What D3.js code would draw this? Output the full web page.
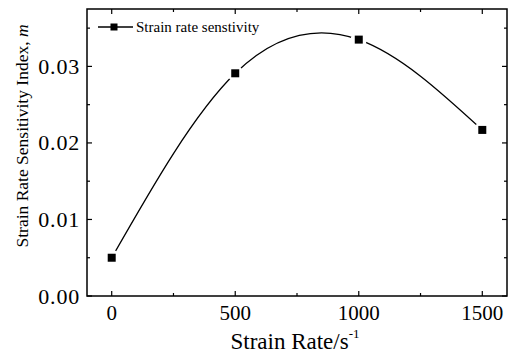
<!DOCTYPE html>
<html>
<head>
<meta charset="utf-8">
<script src="https://cdn.jsdelivr.net/npm/d3@7"></script>
<style>
  body { margin: 0; background: #fff; }
  text { font-family: "Liberation Serif", "Times New Roman", serif; fill: #000; }
</style>
</head>
<body>
<svg id="chart" width="509" height="356"></svg>
<script>
// data
var strainRate = [0, 500, 1000, 1500];
var mValue = [0.0050, 0.0291, 0.0335, 0.0217];
var xTicks = [0, 500, 1000, 1500];
var xMinor = [250, 750, 1250];
var yTicks = [0, 0.01, 0.02, 0.03];
var yMinor = [0.005, 0.015, 0.025, 0.035];
var seriesName = 'Strain rate senstivity';

var svg = d3.select('#chart');
var box = {l: 87, r: 507, t: 9, b: 296};

var x = d3.scaleLinear().domain([-100, 1600]).range([box.l, box.r]);
var y = d3.scaleLinear().domain([0, 0.0375]).range([box.b, box.t]);

var pts = strainRate.map(function(d, i) { return [d, mValue[i]]; });

// curve first, markers with gaps over it
var line = d3.line()
    .x(function(d) { return x(d[0]); })
    .y(function(d) { return y(d[1]); })
    .curve(d3.curveNatural);

svg.append('path')
    .datum(pts)
    .attr('d', line)
    .attr('fill', 'none')
    .attr('stroke', '#000')
    .attr('stroke-width', 1.3);

svg.selectAll('.gap').data(pts).enter()
    .append('circle')
    .attr('cx', function(d) { return x(d[0]); })
    .attr('cy', function(d) { return y(d[1]); })
    .attr('r', 8)
    .attr('fill', '#fff');

svg.selectAll('.mark').data(pts).enter()
    .append('rect')
    .attr('x', function(d) { return x(d[0]) - 4; })
    .attr('y', function(d) { return y(d[1]) - 4; })
    .attr('width', 8)
    .attr('height', 8)
    .attr('fill', '#000');

// ticks, all pointing inward (Origin style)
var tk = svg.append('g').attr('stroke', '#000').attr('stroke-width', 1.2);
function xTick(v, len) {
    tk.append('line').attr('x1', x(v)).attr('x2', x(v)).attr('y1', box.b).attr('y2', box.b - len);
    tk.append('line').attr('x1', x(v)).attr('x2', x(v)).attr('y1', box.t).attr('y2', box.t + len);
}
function yTick(v, len) {
    tk.append('line').attr('y1', y(v)).attr('y2', y(v)).attr('x1', box.l).attr('x2', box.l + len);
    tk.append('line').attr('y1', y(v)).attr('y2', y(v)).attr('x1', box.r).attr('x2', box.r - len);
}
xTicks.forEach(function(v) { xTick(v, 5); });
xMinor.forEach(function(v) { xTick(v, 3); });
yTicks.forEach(function(v) { yTick(v, 5); });
yMinor.forEach(function(v) { yTick(v, 3); });

svg.append('rect')
    .attr('x', box.l).attr('y', box.t)
    .attr('width', box.r - box.l).attr('height', box.b - box.t)
    .attr('fill', 'none').attr('stroke', '#000').attr('stroke-width', 1.5);

// tick labels
svg.selectAll('.xl').data(xTicks).enter()
    .append('text')
    .attr('x', function(d) { return x(d); })
    .attr('y', 320)
    .attr('text-anchor', 'middle')
    .attr('font-size', 21)
    .text(function(d) { return d; });

svg.selectAll('.yl').data(yTicks).enter()
    .append('text')
    .attr('x', 80)
    .attr('y', function(d) { return y(d) + 7.5; })
    .attr('text-anchor', 'end')
    .attr('font-size', 22)
    .attr('letter-spacing', 0.8)
    .text(function(d) { return d3.format('.2f')(d); });

// axis titles
var xt = svg.append('text')
    .attr('x', 295).attr('y', 349)
    .attr('text-anchor', 'middle')
    .attr('font-size', 23)
    .text('Strain Rate/s');
xt.append('tspan').attr('font-size', 13).attr('dy', -11).text('-1');

var yt = svg.append('text')
    .attr('transform', 'translate(28,136) rotate(-90)')
    .attr('text-anchor', 'middle')
    .attr('font-size', 17.5)
    .text('Strain Rate Sensitivity Index, ');
yt.append('tspan').attr('font-style', 'italic').text('m');

// legend
svg.append('line')
    .attr('x1', 98).attr('x2', 133).attr('y1', 27).attr('y2', 27)
    .attr('stroke', '#000').attr('stroke-width', 1.3);
svg.append('rect')
    .attr('x', 110.5).attr('y', 23.5).attr('width', 7).attr('height', 7)
    .attr('fill', '#000');
svg.append('text')
    .attr('x', 136).attr('y', 32)
    .attr('font-size', 15)
    .text(seriesName);
</script>
</body>
</html>
